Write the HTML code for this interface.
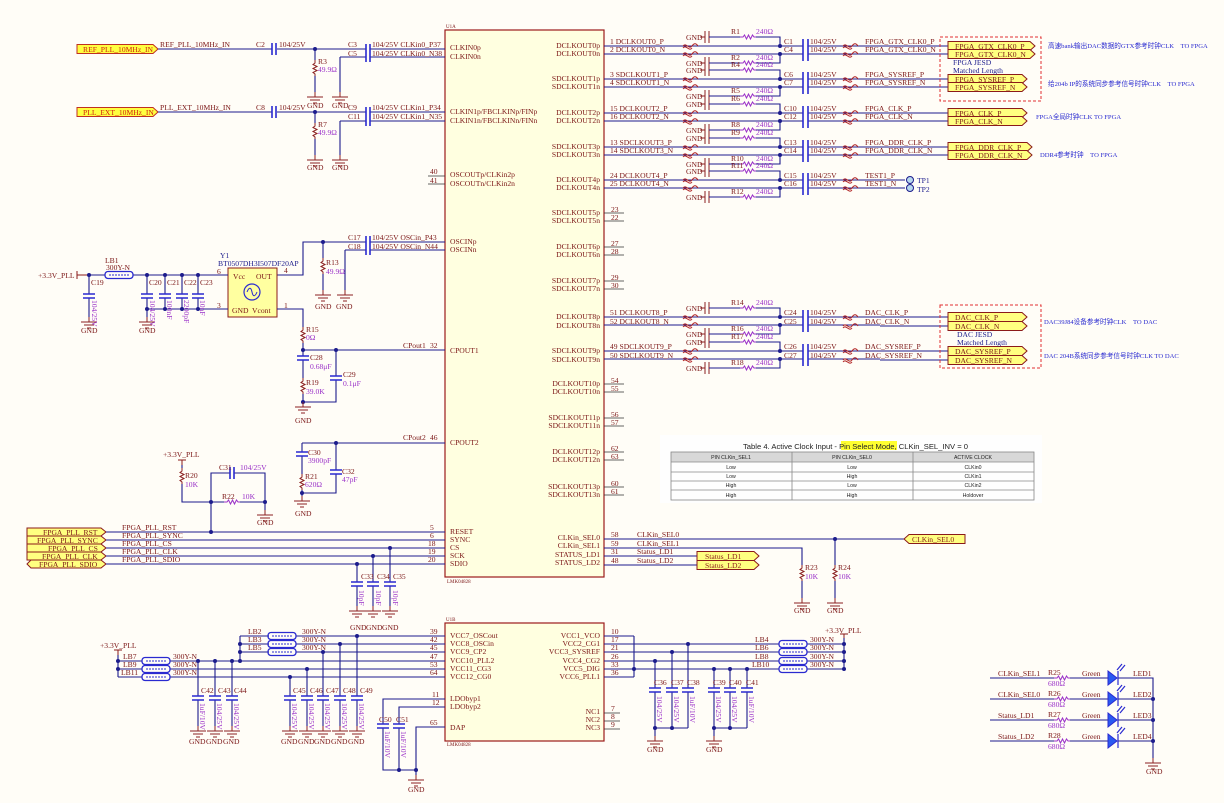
<!DOCTYPE html>
<html><head><meta charset="utf-8">
<style>
html,body{margin:0;padding:0;background:#fffdf7;}
svg{display:block;}
text{font-family:"Liberation Serif","Noto Serif CJK SC",serif;font-size:7.6px;fill:#7a1414;}
.v{fill:#9a30c8;}
.b{fill:#2a2ad0;font-family:"Liberation Serif","Noto Sans CJK SC",sans-serif;font-size:6.6px;}
.ft{fill:#8b1a1a;font-size:7.6px;}
.w{stroke:#1c1c8c;stroke-width:1.1;fill:none;}
.c{stroke:#8b2020;stroke-width:1;fill:none;}
.cp{stroke:#2a2ad0;stroke-width:1.6;fill:none;}
text.t{font-family:"Liberation Sans",sans-serif;fill:#222;}
</style></head><body>
<svg width="1224" height="803" viewBox="0 0 1224 803" xmlns="http://www.w3.org/2000/svg">
<defs>
<g id="gnd"><path class="c" d="M0 0V5M-8 5H8M-5 8H5M-2 11H2"/></g>
<g id="dot"><circle r="2" fill="#1c1c8c"/></g>
<g id="rv"><path class="c" d="M0 0V3L-2 4.5L2 6.5L-2 8.5L2 10.5L-2 12.5L0 14V16"/></g>
<g id="rh"><path d="M0 0H3L4.5 -2L6.5 2L8.5 -2L10.5 2L12.5 -2L14 0H16" stroke="#9a30c8" fill="none"/></g>
<g id="cv"><path class="cp" d="M-6 0H6M-6 4H6"/></g>
<g id="tie"><path d="M0 0C3 -4 6 4 9 0C11 -3 13 -3 15 0M0 2C3 -2 6 6 9 2" stroke="#b02020" fill="none" stroke-width="1"/></g>
<g id="bead"><rect x="0" y="-3.5" width="28" height="7" rx="3" fill="none" stroke="#2a2ad0" stroke-width="1.3"/><path d="M4 0H24" stroke="#2a2ad0" stroke-dasharray="2 1"/></g>
<g id="pair">
 <path class="w" d="M604 0H880M604 8H880"/>
 <rect x="803" y="-7" width="5" height="22" fill="#fffdf7"/>
 <path class="cp" d="M803 -7V15M808 -7V15"/>
 <use href="#tie" x="683" y="0"/><use href="#tie" x="683" y="8"/>
 <path class="c" d="M705 -15V-3M709 -15V-3M700 -9H705"/>
 <path class="w" d="M709 -9H740M756 -9H780V0"/>
 <use href="#rh" x="740" y="-9"/>
 <path class="c" d="M705 11V23M709 11V23M700 17H705"/>
 <path class="w" d="M709 17H740M756 17H780V8"/>
 <use href="#rh" x="740" y="17"/>
 <use href="#dot" x="780" y="0"/><use href="#dot" x="780" y="8"/>
</g>
<g id="stub"><path d="M604 0H624M604 8H624" stroke="#333" stroke-width="0.8"/></g>
</defs>

<rect x="445" y="30" width="159" height="547" fill="#ffffe0" stroke="#9b1b1b" stroke-width="1.2"/>
<text x="446" y="28" style="font-size:5px">U1A</text>
<text x="447" y="583" style="font-size:5px">LMK04828</text>
<rect x="445" y="623" width="159" height="118" fill="#ffffe0" stroke="#9b1b1b" stroke-width="1.2"/>
<text x="446" y="621" style="font-size:5px">U1B</text>
<text x="447" y="746" style="font-size:5px">LMK04828</text>

<text x="450" y="50">CLKIN0p</text><text x="450" y="59">CLKIN0n</text>
<text x="450" y="114">CLKIN1p/FBCLKINp/FINp</text><text x="450" y="123">CLKIN1n/FBCLKINn/FINn</text>
<text x="450" y="177">OSCOUTp/CLKin2p</text><text x="450" y="186">OSCOUTn/CLKin2n</text>
<text x="450" y="244">OSCINp</text><text x="450" y="252">OSCINn</text>
<text x="450" y="353">CPOUT1</text><text x="450" y="445">CPOUT2</text>
<text x="450" y="534">RESET</text><text x="450" y="542">SYNC</text><text x="450" y="550">CS</text><text x="450" y="558">SCK</text><text x="450" y="566">SDIO</text>
<g text-anchor="end">
<text x="600" y="48">DCLKOUT0p</text><text x="600" y="56">DCLKOUT0n</text>
<text x="600" y="81">SDCLKOUT1p</text><text x="600" y="89">SDCLKOUT1n</text>
<text x="600" y="115">DCLKOUT2p</text><text x="600" y="123">DCLKOUT2n</text>
<text x="600" y="149">SDCLKOUT3p</text><text x="600" y="157">SDCLKOUT3n</text>
<text x="600" y="182">DCLKOUT4p</text><text x="600" y="190">DCLKOUT4n</text>
<text x="600" y="215">SDCLKOUT5p</text><text x="600" y="223">SDCLKOUT5n</text>
<text x="600" y="249">DCLKOUT6p</text><text x="600" y="257">DCLKOUT6n</text>
<text x="600" y="283">SDCLKOUT7p</text><text x="600" y="291">SDCLKOUT7n</text>
<text x="600" y="319">DCLKOUT8p</text><text x="600" y="328">DCLKOUT8n</text>
<text x="600" y="353">SDCLKOUT9p</text><text x="600" y="362">SDCLKOUT9n</text>
<text x="600" y="386">DCLKOUT10p</text><text x="600" y="394">DCLKOUT10n</text>
<text x="600" y="420">SDCLKOUT11p</text><text x="600" y="428">SDCLKOUT11n</text>
<text x="600" y="454">DCLKOUT12p</text><text x="600" y="462">DCLKOUT12n</text>
<text x="600" y="489">SDCLKOUT13p</text><text x="600" y="497">SDCLKOUT13n</text>
<text x="600" y="540">CLKin_SEL0</text><text x="600" y="548">CLKin_SEL1</text><text x="600" y="557">STATUS_LD1</text><text x="600" y="565">STATUS_LD2</text>
</g>
<use href="#stub" y="213"/><use href="#stub" y="247"/><use href="#stub" y="281"/><use href="#stub" y="384"/><use href="#stub" y="418"/><use href="#stub" y="452"/><use href="#stub" y="487"/>
<text x="611" y="212">23</text><text x="611" y="220">22</text><text x="611" y="246">27</text><text x="611" y="254">28</text><text x="611" y="280">29</text><text x="611" y="288">30</text>
<text x="611" y="383">54</text><text x="611" y="391">55</text><text x="611" y="417">56</text><text x="611" y="425">57</text><text x="611" y="451">62</text><text x="611" y="459">63</text><text x="611" y="486">60</text><text x="611" y="494">61</text>

<use href="#pair" y="46"/><use href="#pair" y="79"/><use href="#pair" y="113"/><use href="#pair" y="147"/><use href="#pair" y="180"/><use href="#pair" y="317"/><use href="#pair" y="351"/>
<path class="w" d="M880 46H948M880 54H948M880 79H948M880 87H948M880 113H948M880 121H948M880 147H948M880 155H948M880 180H905M880 188H905M880 317H948M880 326H948M880 351H948M880 360H948"/>
<g>
<text x="610" y="44">1  DCLKOUT0_P</text><text x="610" y="52">2  DCLKOUT0_N</text>
<text x="610" y="77">3  SDCLKOUT1_P</text><text x="610" y="85">4  SDCLKOUT1_N</text>
<text x="610" y="111">15 DCLKOUT2_P</text><text x="610" y="119">16 DCLKOUT2_N</text>
<text x="610" y="145">13 SDCLKOUT3_P</text><text x="610" y="153">14 SDCLKOUT3_N</text>
<text x="610" y="178">24 DCLKOUT4_P</text><text x="610" y="186">25 DCLKOUT4_N</text>
<text x="610" y="315">51 DCLKOUT8_P</text><text x="610" y="324">52 DCLKOUT8_N</text>
<text x="610" y="349">49 SDCLKOUT9_P</text><text x="610" y="358">50 SDCLKOUT9_N</text>
</g>
<g>
<text x="686" y="40">GND</text><text x="686" y="66">GND</text><text x="686" y="73">GND</text><text x="686" y="99">GND</text><text x="686" y="107">GND</text><text x="686" y="133">GND</text><text x="686" y="141">GND</text><text x="686" y="167">GND</text><text x="686" y="174">GND</text><text x="686" y="200">GND</text>
<text x="686" y="311">GND</text><text x="686" y="337">GND</text><text x="686" y="345">GND</text><text x="686" y="371">GND</text>
</g>
<g>
<text x="731" y="34">R1</text><text x="731" y="60">R2</text><text x="731" y="67">R4</text><text x="731" y="93">R5</text><text x="731" y="101">R6</text><text x="731" y="127">R8</text><text x="731" y="135">R9</text><text x="731" y="161">R10</text><text x="731" y="168">R11</text><text x="731" y="194">R12</text>
<text x="731" y="305">R14</text><text x="731" y="331">R16</text><text x="731" y="339">R17</text><text x="731" y="365">R18</text>
</g>
<g>
<text class="v" x="756" y="34">240Ω</text><text class="v" x="756" y="60">240Ω</text><text class="v" x="756" y="67">240Ω</text><text class="v" x="756" y="93">240Ω</text><text class="v" x="756" y="101">240Ω</text><text class="v" x="756" y="127">240Ω</text><text class="v" x="756" y="135">240Ω</text><text class="v" x="756" y="161">240Ω</text><text class="v" x="756" y="168">240Ω</text><text class="v" x="756" y="194">240Ω</text>
<text class="v" x="756" y="305">240Ω</text><text class="v" x="756" y="331">240Ω</text><text class="v" x="756" y="339">240Ω</text><text class="v" x="756" y="365">240Ω</text>
</g>
<g>
<text x="784" y="44">C1</text><text x="784" y="52">C4</text><text x="784" y="77">C6</text><text x="784" y="85">C7</text><text x="784" y="111">C10</text><text x="784" y="119">C12</text><text x="784" y="145">C13</text><text x="784" y="153">C14</text><text x="784" y="178">C15</text><text x="784" y="186">C16</text><text x="784" y="315">C24</text><text x="784" y="324">C25</text><text x="784" y="349">C26</text><text x="784" y="358">C27</text>
<text x="810" y="44">104/25V</text><text x="810" y="52">104/25V</text><text x="810" y="77">104/25V</text><text x="810" y="85">104/25V</text><text x="810" y="111">104/25V</text><text x="810" y="119">104/25V</text><text x="810" y="145">104/25V</text><text x="810" y="153">104/25V</text><text x="810" y="178">104/25V</text><text x="810" y="186">104/25V</text><text x="810" y="315">104/25V</text><text x="810" y="324">104/25V</text><text x="810" y="349">104/25V</text><text x="810" y="358">104/25V</text>
</g>
<use href="#tie" x="843" y="46"/><use href="#tie" x="843" y="54"/><use href="#tie" x="843" y="79"/><use href="#tie" x="843" y="87"/><use href="#tie" x="843" y="113"/><use href="#tie" x="843" y="121"/><use href="#tie" x="843" y="147"/><use href="#tie" x="843" y="155"/><use href="#tie" x="843" y="180"/><use href="#tie" x="843" y="188"/><use href="#tie" x="843" y="317"/><use href="#tie" x="843" y="326"/><use href="#tie" x="843" y="351"/><use href="#tie" x="843" y="360"/>
<g>
<text x="865" y="44">FPGA_GTX_CLK0_P</text><text x="865" y="52">FPGA_GTX_CLK0_N</text>
<text x="865" y="77">FPGA_SYSREF_P</text><text x="865" y="85">FPGA_SYSREF_N</text>
<text x="865" y="111">FPGA_CLK_P</text><text x="865" y="119">FPGA_CLK_N</text>
<text x="865" y="145">FPGA_DDR_CLK_P</text><text x="865" y="153">FPGA_DDR_CLK_N</text>
<text x="865" y="178">TEST1_P</text><text x="865" y="186">TEST1_N</text>
<text x="865" y="315">DAC_CLK_P</text><text x="865" y="324">DAC_CLK_N</text>
<text x="865" y="349">DAC_SYSREF_P</text><text x="865" y="358">DAC_SYSREF_N</text>
</g>
<circle cx="910" cy="180" r="3.5" fill="#b8d8ee" stroke="#1c1c8c"/><circle cx="910" cy="188" r="3.5" fill="#b8d8ee" stroke="#1c1c8c"/>
<text x="917" y="183" style="fill:#1c1c8c">TP1</text><text x="917" y="192" style="fill:#1c1c8c">TP2</text>

<g fill="#ffff80" stroke="#8b1a1a" stroke-width="1">
<path d="M948 41.5H1030L1035 46L1030 50.5H948Z"/><path d="M948 49.5H1030L1035 54L1030 58.5H948Z"/>
<path d="M948 74.5H1022L1027 79L1022 83.5H948Z"/><path d="M948 82.5H1022L1027 87L1022 91.5H948Z"/>
<path d="M948 108.5H1022L1027 113L1022 117.5H948Z"/><path d="M948 116.5H1022L1027 121L1022 125.5H948Z"/>
<path d="M948 142.5H1027L1032 147L1027 151.5H948Z"/><path d="M948 150.5H1027L1032 155L1027 159.5H948Z"/>
<path d="M948 312.5H1022L1027 317L1022 321.5H948Z"/><path d="M948 321.5H1022L1027 326L1022 330.5H948Z"/>
<path d="M948 346.5H1022L1027 351L1022 355.5H948Z"/><path d="M948 355.5H1022L1027 360L1022 364.5H948Z"/>
</g>
<g class="ft">
<text x="955" y="49">FPGA_GTX_CLK0_P</text><text x="955" y="57">FPGA_GTX_CLK0_N</text>
<text x="955" y="82">FPGA_SYSREF_P</text><text x="955" y="90">FPGA_SYSREF_N</text>
<text x="955" y="116">FPGA_CLK_P</text><text x="955" y="124">FPGA_CLK_N</text>
<text x="955" y="150">FPGA_DDR_CLK_P</text><text x="955" y="158">FPGA_DDR_CLK_N</text>
<text x="955" y="320">DAC_CLK_P</text><text x="955" y="329">DAC_CLK_N</text>
<text x="955" y="354">DAC_SYSREF_P</text><text x="955" y="363">DAC_SYSREF_N</text>
</g>
<rect x="940" y="37" width="101" height="64" fill="none" stroke="#e03030" stroke-dasharray="3 2"/>
<rect x="940" y="305" width="101" height="63" fill="none" stroke="#e03030" stroke-dasharray="3 2"/>
<text x="953" y="65" style="fill:#1c1c8c">FPGA JESD</text><text x="953" y="73" style="fill:#1c1c8c">Matched Length</text>
<text x="957" y="337" style="fill:#1c1c8c">DAC JESD</text><text x="957" y="345" style="fill:#1c1c8c">Matched Length</text>
<text class="b" x="1048" y="48">高速bank输出DAC数据的GTX参考时钟CLK　TO FPGA</text>
<text class="b" x="1048" y="86">给204b IP的系统同步参考信号时钟CLK　TO FPGA</text>
<text class="b" x="1036" y="119">FPGA全局时钟CLK TO FPGA</text>
<text class="b" x="1040" y="157">DDR4参考时钟　TO FPGA</text>
<text class="b" x="1044" y="324">DAC39J84设备参考时钟CLK　TO DAC</text>
<text class="b" x="1044" y="358">DAC 204B系统同步参考信号时钟CLK TO DAC</text>

<g fill="#ffff40" stroke="#c03020" stroke-width="1">
<path d="M77 44.5H153L158 49L153 53.5H77Z"/><path d="M77 107.5H153L158 112L153 116.5H77Z"/>
</g>
<text x="83" y="52" style="fill:#d02010">REF_PLL_10MHz_IN</text><text x="83" y="115" style="fill:#d02010">PLL_EXT_10MHz_IN</text>
<path class="w" d="M158 49H272M277 49H366M370 49H445M340 57H366M370 57H445M340 57V92M315 49V60M315 76V92"/>
<path class="w" d="M158 112H272M277 112H366M370 112H445M340 121H366M370 121H445M340 121V155M315 112V123M315 139V155"/>
<path class="cp" d="M272 43V55M276 43V55M366 44V62M370 44V62M272 106V118M276 106V118M366 107V126M370 107V126"/>
<use href="#rv" x="315" y="60"/><use href="#rv" x="315" y="123"/>
<use href="#dot" x="315" y="49"/><use href="#dot" x="315" y="112"/>
<use href="#gnd" x="315" y="92"/><use href="#gnd" x="340" y="92"/><use href="#gnd" x="315" y="155"/><use href="#gnd" x="340" y="155"/>
<text x="307" y="108">GND</text><text x="332" y="108">GND</text><text x="307" y="170">GND</text><text x="332" y="170">GND</text>
<text x="160" y="47">REF_PLL_10MHz_IN</text><text x="160" y="110">PLL_EXT_10MHz_IN</text>
<text x="256" y="47">C2</text><text x="279" y="47">104/25V</text><text x="256" y="110">C8</text><text x="279" y="110">104/25V</text>
<text x="318" y="64">R3</text><text class="v" x="318" y="72">49.9Ω</text><text x="318" y="127">R7</text><text class="v" x="318" y="135">49.9Ω</text>
<text x="348" y="47">C3</text><text x="348" y="56">C5</text><text x="372" y="47">104/25V CLKin0_P37</text><text x="372" y="56">104/25V CLKin0_N38</text>
<text x="348" y="110">C9</text><text x="348" y="119">C11</text><text x="372" y="110">104/25V CLKin1_P34</text><text x="372" y="119">104/25V CLKin1_N35</text>
<path d="M428 176H445M428 184H445" stroke="#333" stroke-width="0.8"/>
<text x="430" y="174">40</text><text x="430" y="183">41</text>

<path class="w" d="M277 275H303V242H366M370 242H445M345 250H366M370 250H445M323 242V258M323 274V290M345 250V290"/>
<path class="cp" d="M366 236V255M370 236V255"/>
<use href="#dot" x="323" y="242"/><use href="#rv" x="323" y="258"/>
<use href="#gnd" x="323" y="290"/><use href="#gnd" x="345" y="290"/>
<text x="315" y="309">GND</text><text x="336" y="309">GND</text>
<text x="326" y="265">R13</text><text class="v" x="326" y="274">49.9Ω</text>
<text x="348" y="240">C17</text><text x="348" y="249">C18</text><text x="372" y="240">104/25V OSCin_P43</text><text x="372" y="249">104/25V OSCin_N44</text>
<rect x="228" y="268" width="49" height="49" fill="#ffffa0" stroke="#8b1a1a"/>
<circle cx="252" cy="292" r="8" fill="none" stroke="#2a2ad0" stroke-width="1.2"/>
<path d="M247 292C249 287 251 287 252 292C253 297 255 297 257 292" stroke="#2a2ad0" fill="none"/>
<text x="233" y="279">Vcc</text><text x="256" y="279">OUT</text><text x="232" y="313">GND</text><text x="252" y="313">Vcont</text>
<text x="220" y="258" style="fill:#1c1c8c">Y1</text><text x="218" y="266" style="fill:#1c1c8c">BT0507DH3I507DF20AP</text>
<text x="217" y="274">6</text><text x="284" y="273">4</text><text x="217" y="308">3</text><text x="284" y="308">1</text>
<path d="M77 271V279M77 275H105" stroke="#8b1a1a"/>
<path class="w" d="M89 275H105M133 275H228M147 309H228M89 275V294M89 298V317M147 275V294M165 275V294M182 275V294M198 275V294M147 298V317M165 298V309M182 298V309M198 298V309"/>
<use href="#bead" x="105" y="275"/>
<use href="#cv" x="89" y="294"/><use href="#cv" x="147" y="294"/><use href="#cv" x="165" y="294"/><use href="#cv" x="182" y="294"/><use href="#cv" x="198" y="294"/>
<use href="#dot" x="89" y="275"/><use href="#dot" x="147" y="275"/><use href="#dot" x="165" y="275"/><use href="#dot" x="182" y="275"/><use href="#dot" x="198" y="275"/>
<use href="#dot" x="147" y="309"/><use href="#dot" x="165" y="309"/><use href="#dot" x="182" y="309"/><use href="#dot" x="198" y="309"/>
<use href="#gnd" x="89" y="317"/><use href="#gnd" x="147" y="317"/>
<text x="81" y="333">GND</text><text x="139" y="333">GND</text>
<text x="38" y="278">+3.3V_PLL</text><text x="105" y="263">LB1</text><text x="106" y="270">300Y-N</text>
<text x="91" y="285">C19</text><text x="149" y="285">C20</text><text x="167" y="285">C21</text><text x="184" y="285">C22</text><text x="200" y="285">C23</text>
<text class="v" transform="translate(92,300) rotate(90)">104/25V</text><text class="v" transform="translate(150,300) rotate(90)">104/25V</text><text class="v" transform="translate(167,300) rotate(90)">100nF</text><text class="v" transform="translate(184,300) rotate(90)">2200pF</text><text class="v" transform="translate(200,300) rotate(90)">10nF</text>

<path class="w" d="M277 309H303V327M303 343V356M303 360V378M303 394V402H336V380M336 376V350M303 350H445"/>
<use href="#rv" x="303" y="327"/><use href="#rv" x="303" y="378"/>
<use href="#cv" x="303" y="356"/><use href="#cv" x="336" y="376"/>
<use href="#dot" x="303" y="350"/><use href="#dot" x="336" y="350"/><use href="#dot" x="303" y="402"/>
<use href="#gnd" x="303" y="402"/><text x="295" y="423">GND</text>
<text x="306" y="332">R15</text><text class="v" x="306" y="340">0Ω</text>
<text x="310" y="360">C28</text><text class="v" x="310" y="369">0.68μF</text>
<text x="343" y="377">C29</text><text class="v" x="343" y="386">0.1μF</text>
<text x="306" y="385">R19</text><text class="v" x="306" y="394">39.0K</text>
<text x="403" y="348">CPout1</text><text x="430" y="348">32</text>

<path class="w" d="M302 443H445M302 443V452M302 456V474M302 490V493H336V474M336 470V443"/>
<use href="#cv" x="302" y="452"/><use href="#cv" x="336" y="470"/><use href="#rv" x="302" y="474"/>
<use href="#dot" x="336" y="443"/><use href="#dot" x="302" y="493"/>
<use href="#gnd" x="302" y="496"/><text x="295" y="516">GND</text>
<path class="w" d="M302 493V496"/>
<text x="308" y="455">C30</text><text class="v" x="308" y="463">3900pF</text>
<text x="305" y="479">R21</text><text class="v" x="305" y="487">620Ω</text>
<text x="342" y="474">C32</text><text class="v" x="342" y="482">47pF</text>
<text x="403" y="440">CPout2</text><text x="430" y="440">46</text>

<path d="M182 460V465M178 460H186" stroke="#8b1a1a"/>
<text x="163" y="457">+3.3V_PLL</text>
<path class="w" d="M182 465V468M182 484V502H224M240 502H265V473H234M230 473H211V532M265 502V510"/>
<use href="#rv" x="182" y="468"/><use href="#rh" x="224" y="502"/>
<path class="cp" d="M230 467V479M234 467V479"/>
<use href="#dot" x="211" y="502"/><use href="#dot" x="265" y="502"/><use href="#dot" x="211" y="532"/>
<use href="#gnd" x="265" y="510"/><text x="257" y="525">GND</text>
<text x="185" y="478">R20</text><text class="v" x="185" y="487">10K</text>
<text x="219" y="470">C31</text><text class="v" x="240" y="470">104/25V</text>
<text x="222" y="499">R22</text><text class="v" x="242" y="499">10K</text>

<g fill="#ffff80" stroke="#8b1a1a">
<path d="M27 528H101L106 532L101 536H27Z"/><path d="M27 536H101L106 540L101 544H27Z"/><path d="M27 544H101L106 548L101 552H27Z"/><path d="M27 552H101L106 556L101 560H27Z"/><path d="M31 560H101L106 564L101 568H31L27 564Z"/>
</g>
<g class="ft">
<text x="43" y="535">FPGA_PLL_RST</text><text x="37" y="543">FPGA_PLL_SYNC</text><text x="48" y="551">FPGA_PLL_CS</text><text x="42" y="559">FPGA_PLL_CLK</text><text x="39" y="567">FPGA_PLL_SDIO</text>
</g>
<path class="w" d="M106 532H445M106 540H445M106 548H445M106 556H445M106 564H445M390 548V582M373 556V582M357 564V582M390 586V606M373 586V606M357 586V606"/>
<use href="#dot" x="390" y="548"/><use href="#dot" x="373" y="556"/><use href="#dot" x="357" y="564"/>
<use href="#cv" x="357" y="582"/><use href="#cv" x="373" y="582"/><use href="#cv" x="390" y="582"/>
<use href="#gnd" x="357" y="606"/><use href="#gnd" x="373" y="606"/><use href="#gnd" x="390" y="606"/>
<text x="350" y="630">GND</text><text x="366" y="630">GND</text><text x="382" y="630">GND</text>
<text x="361" y="579">C33</text><text x="377" y="579">C34</text><text x="393" y="579">C35</text>
<text class="v" transform="translate(359,590) rotate(90)">10pF</text><text class="v" transform="translate(376,590) rotate(90)">10pF</text><text class="v" transform="translate(393,590) rotate(90)">10pF</text>
<text x="122" y="530">FPGA_PLL_RST</text><text x="122" y="538">FPGA_PLL_SYNC</text><text x="122" y="546">FPGA_PLL_CS</text><text x="122" y="554">FPGA_PLL_CLK</text><text x="122" y="562">FPGA_PLL_SDIO</text>
<text x="430" y="530">5</text><text x="430" y="538">6</text><text x="428" y="546">18</text><text x="428" y="554">19</text><text x="428" y="562">20</text>

<path class="w" d="M604 539H904M604 548H802V565M835 539V565M802 581V598M835 581V598M604 556H697M604 565H697"/>
<use href="#dot" x="835" y="539"/>
<use href="#rv" x="802" y="565"/><use href="#rv" x="835" y="565"/>
<use href="#gnd" x="802" y="598"/><use href="#gnd" x="835" y="598"/>
<text x="794" y="613">GND</text><text x="827" y="613">GND</text>
<text x="805" y="570">R23</text><text class="v" x="805" y="579">10K</text><text x="838" y="570">R24</text><text class="v" x="838" y="579">10K</text>
<text x="611" y="537">58</text><text x="611" y="546">59</text><text x="611" y="554">31</text><text x="611" y="563">48</text>
<text x="637" y="537">CLKin_SEL0</text><text x="637" y="546">CLKin_SEL1</text><text x="637" y="554">Status_LD1</text><text x="637" y="563">Status_LD2</text>
<g fill="#ffff80" stroke="#8b1a1a">
<path d="M909 534.5H965V543.5H909L904 539Z"/>
<path d="M697 551.5H754L759 556L754 560.5H697Z"/><path d="M697 560.5H754L759 565L754 569.5H697Z"/>
</g>
<text class="ft" x="912" y="542">CLKin_SEL0</text><text class="ft" x="705" y="559">Status_LD1</text><text class="ft" x="705" y="568">Status_LD2</text>

<!-- table -->
<rect x="660" y="435" width="382" height="68" fill="#fefefe"/>
<rect x="841" y="441" width="56" height="9" fill="#ffff30"/>
<text class="t" x="743" y="449" textLength="225" lengthAdjust="spacingAndGlyphs" style="font-size:7px">Table 4. Active Clock Input - Pin Select Mode, CLKin_SEL_INV = 0</text>
<rect x="671" y="452" width="363" height="10" fill="#d8d8d8"/>
<g stroke="#888" stroke-width="0.8" fill="none">
<rect x="671" y="452" width="363" height="48"/>
<path d="M671 462H1034M671 472H1034M671 481H1034M671 490H1034M792 452V500M913 452V500"/>
</g>
<g text-anchor="middle">
<text class="t" x="731" y="459" style="font-size:5.2px">PIN CLKin_SEL1</text><text class="t" x="852" y="459" style="font-size:5.2px">PIN CLKin_SEL0</text><text class="t" x="973" y="459" style="font-size:5.2px">ACTIVE CLOCK</text>
<text class="t" x="731" y="469" style="font-size:5.2px">Low</text><text class="t" x="852" y="469" style="font-size:5.2px">Low</text><text class="t" x="973" y="469" style="font-size:5.2px">CLKin0</text>
<text class="t" x="731" y="478" style="font-size:5.2px">Low</text><text class="t" x="852" y="478" style="font-size:5.2px">High</text><text class="t" x="973" y="478" style="font-size:5.2px">CLKin1</text>
<text class="t" x="731" y="487" style="font-size:5.2px">High</text><text class="t" x="852" y="487" style="font-size:5.2px">Low</text><text class="t" x="973" y="487" style="font-size:5.2px">CLKin2</text>
<text class="t" x="731" y="497" style="font-size:5.2px">High</text><text class="t" x="852" y="497" style="font-size:5.2px">High</text><text class="t" x="973" y="497" style="font-size:5.2px">Holdover</text>
</g>

<text x="450" y="638">VCC7_OSCout</text><text x="450" y="646">VCC8_OSCin</text><text x="450" y="654">VCC9_CP2</text><text x="450" y="663">VCC10_PLL2</text><text x="450" y="671">VCC11_CG3</text><text x="450" y="679">VCC12_CG0</text>
<text x="450" y="701">LDObyp1</text><text x="450" y="709">LDObyp2</text><text x="450" y="730">DAP</text>
<g text-anchor="end">
<text x="600" y="638">VCC1_VCO</text><text x="600" y="646">VCC2_CG1</text><text x="600" y="654">VCC3_SYSREF</text><text x="600" y="663">VCC4_CG2</text><text x="600" y="671">VCC5_DIG</text><text x="600" y="679">VCC6_PLL1</text>
<text x="600" y="714">NC1</text><text x="600" y="722">NC2</text><text x="600" y="730">NC3</text>
</g>
<text x="430" y="634">39</text><text x="430" y="642">42</text><text x="430" y="650">45</text><text x="430" y="659">47</text><text x="430" y="667">53</text><text x="430" y="675">64</text>
<text x="432" y="697">11</text><text x="432" y="705">12</text><text x="430" y="725">65</text>
<text x="611" y="634">10</text><text x="611" y="642">17</text><text x="611" y="650">21</text><text x="611" y="659">26</text><text x="611" y="667">33</text><text x="611" y="675">36</text>
<text x="611" y="711">7</text><text x="611" y="719">8</text><text x="611" y="727">9</text>
<path d="M604 713H620M604 721H620M604 729H620" stroke="#333" stroke-width="0.8"/>

<path d="M118 650V655M114 650H122" stroke="#8b1a1a"/><text x="100" y="648">+3.3V_PLL</text>
<path class="w" d="M118 655V677M118 661H142M118 669H142M118 677H142M170 661H445M170 669H445M170 677H445M240 636H269M240 644H269M240 652H269M240 636V661M296 636H445M296 644H445M296 652H445"/>
<use href="#bead" x="142" y="661"/><use href="#bead" x="142" y="669"/><use href="#bead" x="142" y="677"/>
<use href="#bead" x="268" y="636"/><use href="#bead" x="268" y="644"/><use href="#bead" x="268" y="652"/>
<use href="#dot" x="118" y="661"/><use href="#dot" x="118" y="669"/><use href="#dot" x="240" y="644"/><use href="#dot" x="240" y="652"/><use href="#dot" x="240" y="661"/>
<text x="123" y="659">LB7</text><text x="123" y="667">LB9</text><text x="121" y="675">LB11</text>
<text x="173" y="659">300Y-N</text><text x="173" y="667">300Y-N</text><text x="173" y="675">300Y-N</text>
<text x="248" y="634">LB2</text><text x="248" y="642">LB3</text><text x="248" y="650">LB5</text>
<text x="302" y="634">300Y-N</text><text x="302" y="642">300Y-N</text><text x="302" y="650">300Y-N</text>
<path class="w" d="M198 661V696M215 661V696M232 661V696M198 700V718M215 700V718M232 700V718M290 677V696M307 669V696M323 652V696M340 644V696M357 636V696M290 700V718M307 700V718M323 700V718M340 700V718M357 700V718"/>
<use href="#dot" x="198" y="661"/><use href="#dot" x="215" y="661"/><use href="#dot" x="232" y="661"/><use href="#dot" x="290" y="677"/><use href="#dot" x="307" y="669"/><use href="#dot" x="323" y="652"/><use href="#dot" x="340" y="644"/><use href="#dot" x="357" y="636"/>
<use href="#cv" x="198" y="696"/><use href="#cv" x="215" y="696"/><use href="#cv" x="232" y="696"/><use href="#cv" x="290" y="696"/><use href="#cv" x="307" y="696"/><use href="#cv" x="323" y="696"/><use href="#cv" x="340" y="696"/><use href="#cv" x="357" y="696"/>
<use href="#gnd" x="198" y="726"/><use href="#gnd" x="215" y="726"/><use href="#gnd" x="232" y="726"/><use href="#gnd" x="290" y="726"/><use href="#gnd" x="307" y="726"/><use href="#gnd" x="323" y="726"/><use href="#gnd" x="340" y="726"/><use href="#gnd" x="357" y="726"/>
<path class="w" d="M198 718V726M215 718V726M232 718V726M290 718V726M307 718V726M323 718V726M340 718V726M357 718V726"/>
<text x="189" y="744">GND</text><text x="206" y="744">GND</text><text x="223" y="744">GND</text><text x="281" y="744">GND</text><text x="298" y="744">GND</text><text x="314" y="744">GND</text><text x="331" y="744">GND</text><text x="348" y="744">GND</text>
<text x="201" y="693">C42</text><text x="218" y="693">C43</text><text x="234" y="693">C44</text><text x="293" y="693">C45</text><text x="310" y="693">C46</text><text x="326" y="693">C47</text><text x="343" y="693">C48</text><text x="360" y="693">C49</text>
<text class="v" transform="translate(200,703) rotate(90)">1uF/10V</text><text class="v" transform="translate(217,703) rotate(90)">104/25V</text><text class="v" transform="translate(234,703) rotate(90)">104/25V</text>
<text class="v" transform="translate(292,703) rotate(90)">104/25V</text><text class="v" transform="translate(309,703) rotate(90)">104/25V</text><text class="v" transform="translate(325,703) rotate(90)">104/25V</text><text class="v" transform="translate(342,703) rotate(90)">104/25V</text><text class="v" transform="translate(359,703) rotate(90)">104/25V</text>
<path class="w" d="M445 699H383V724M445 707H399V724M383 728V770H416M399 728V770M445 727H416V775"/>
<use href="#cv" x="383" y="724"/><use href="#cv" x="399" y="724"/>
<use href="#dot" x="399" y="770"/><use href="#dot" x="416" y="770"/>
<use href="#gnd" x="416" y="775"/><text x="408" y="792">GND</text>
<text x="379" y="722">C50</text><text x="396" y="722">C51</text>
<text class="v" transform="translate(385,731) rotate(90)">1uF/10V</text><text class="v" transform="translate(401,731) rotate(90)">1uF/10V</text>

<path class="w" d="M604 636H634M604 644H779M604 652H779M604 661H779M604 669H779M604 677H634M634 636V677M807 644H844M807 652H844M807 661H844M807 669H844M844 638V669"/>
<path d="M844 634V638M840 634H848" stroke="#8b1a1a"/><text x="825" y="633">+3.3V_PLL</text>
<use href="#bead" x="779" y="644"/><use href="#bead" x="779" y="652"/><use href="#bead" x="779" y="661"/><use href="#bead" x="779" y="669"/>
<use href="#dot" x="844" y="644"/><use href="#dot" x="844" y="652"/><use href="#dot" x="844" y="661"/><use href="#dot" x="844" y="669"/><use href="#dot" x="634" y="669"/>
<text x="755" y="642">LB4</text><text x="755" y="650">LB6</text><text x="755" y="659">LB8</text><text x="752" y="667">LB10</text>
<text x="810" y="642">300Y-N</text><text x="810" y="650">300Y-N</text><text x="810" y="659">300Y-N</text><text x="810" y="667">300Y-N</text>
<path class="w" d="M655 661V688M672 652V688M688 644V688M714 669V688M730 669V688M747 669V688M655 692V728M672 692V728M688 692V728M714 692V728M730 692V728M747 692V728M655 728H688M714 728H747"/>
<use href="#dot" x="655" y="661"/><use href="#dot" x="672" y="652"/><use href="#dot" x="688" y="644"/><use href="#dot" x="714" y="669"/><use href="#dot" x="730" y="669"/><use href="#dot" x="747" y="669"/>
<use href="#dot" x="655" y="728"/><use href="#dot" x="672" y="728"/><use href="#dot" x="714" y="728"/><use href="#dot" x="730" y="728"/>
<use href="#cv" x="655" y="688"/><use href="#cv" x="672" y="688"/><use href="#cv" x="688" y="688"/><use href="#cv" x="714" y="688"/><use href="#cv" x="730" y="688"/><use href="#cv" x="747" y="688"/>
<use href="#gnd" x="655" y="736"/><use href="#gnd" x="714" y="736"/><path class="w" d="M655 728V736M714 728V736"/>
<text x="647" y="752">GND</text><text x="706" y="752">GND</text>
<text x="654" y="685">C36</text><text x="671" y="685">C37</text><text x="687" y="685">C38</text><text x="713" y="685">C39</text><text x="729" y="685">C40</text><text x="746" y="685">C41</text>
<text class="v" transform="translate(657,696) rotate(90)">104/25V</text><text class="v" transform="translate(674,696) rotate(90)">104/25V</text><text class="v" transform="translate(690,696) rotate(90)">1uF/10V</text><text class="v" transform="translate(716,696) rotate(90)">104/25V</text><text class="v" transform="translate(732,696) rotate(90)">104/25V</text><text class="v" transform="translate(749,696) rotate(90)">1uF/10V</text>

<path class="w" d="M990 678H1054M1070 678H1108M990 699H1054M1070 699H1108M990 720H1054M1070 720H1108M990 741H1054M1070 741H1108M1118 678H1153V758M1118 699H1153M1118 720H1153M1118 741H1153"/>
<use href="#rh" x="1054" y="678"/><use href="#rh" x="1054" y="699"/><use href="#rh" x="1054" y="720"/><use href="#rh" x="1054" y="741"/>
<g fill="#2a5af0" stroke="#2a2ad0">
<path d="M1108 671V685L1117 678Z"/><path d="M1108 692V706L1117 699Z"/><path d="M1108 713V727L1117 720Z"/><path d="M1108 734V748L1117 741Z"/>
</g>
<path d="M1118 671V685M1118 692V706M1118 713V727M1118 734V748M1117 670L1122 664M1120 671L1125 665M1117 691L1122 685M1120 692L1125 686M1117 712L1122 706M1120 713L1125 707M1117 733L1122 727M1120 734L1125 728" stroke="#2a2ad0" stroke-width="1.2"/>
<use href="#dot" x="1153" y="699"/><use href="#dot" x="1153" y="720"/><use href="#dot" x="1153" y="741"/>
<use href="#gnd" x="1153" y="758"/><text x="1146" y="774">GND</text>
<text x="998" y="676">CLKin_SEL1</text><text x="998" y="697">CLKin_SEL0</text><text x="998" y="718">Status_LD1</text><text x="998" y="739">Status_LD2</text>
<text x="1048" y="675">R25</text><text x="1048" y="696">R26</text><text x="1048" y="717">R27</text><text x="1048" y="738">R28</text>
<text class="v" x="1048" y="686">680Ω</text><text class="v" x="1048" y="707">680Ω</text><text class="v" x="1048" y="728">680Ω</text><text class="v" x="1048" y="749">680Ω</text>
<text x="1082" y="676">Green</text><text x="1082" y="697">Green</text><text x="1082" y="718">Green</text><text x="1082" y="739">Green</text>
<text x="1133" y="676">LED1</text><text x="1133" y="697">LED2</text><text x="1133" y="718">LED3</text><text x="1133" y="739">LED4</text>
</svg>
</body></html>
